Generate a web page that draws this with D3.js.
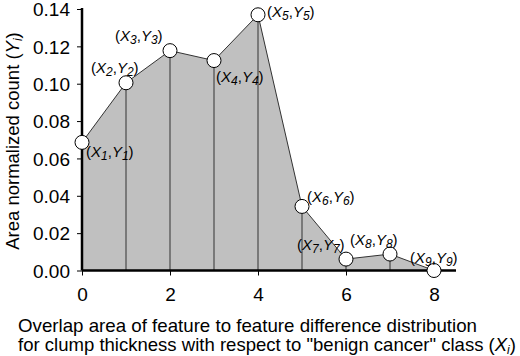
<!DOCTYPE html>
<html>
<head>
<meta charset="utf-8">
<script src="https://cdn.jsdelivr.net/npm/d3@7"></script>
<style>
  body { margin: 0; background: #fff; }
  svg { font-family: "Liberation Sans", Arial, sans-serif; }
</style>
</head>
<body>
<div id="chart"></div>
<script>
// data
var xs = [0, 1, 2, 3, 4, 5, 6, 7, 8];
var ys = [0.0686, 0.1005, 0.1177, 0.1124, 0.1369, 0.0343, 0.0061, 0.0088, 0.0];
var xTicks = [0, 2, 4, 6, 8];
var yTicks = [0, 0.02, 0.04, 0.06, 0.08, 0.10, 0.12, 0.14];
// label offsets per point (dx, dy from point)
var labelDx = [4, -35, -55, 2, 9, 5, -49, -40, -24];
var labelDy = [15, -10, -10, 21, 2, -4, -9, -9, -8];

var svg = d3.select('#chart').append('svg')
  .attr('width', 520)
  .attr('height', 356);

var x = d3.scaleLinear().domain([0, 8.5]).range([82, 456]);
var y = d3.scaleLinear().domain([0, 0.14]).range([270.5, 9]);

var pts = xs.map(function(d, i) { return [d, ys[i]]; });

// shaded area
var area = d3.area()
  .x(function(d) { return x(d[0]); })
  .y0(y(0))
  .y1(function(d) { return y(d[1]); });
svg.append('path')
  .datum(pts)
  .attr('d', area)
  .style('fill', '#c0c0c0');

// vertical dividers
svg.selectAll('line.drop')
  .data(pts.slice(1, 8))
  .enter().append('line')
  .attr('x1', function(d) { return x(d[0]); })
  .attr('x2', function(d) { return x(d[0]); })
  .attr('y1', function(d) { return y(d[1]); })
  .attr('y2', y(0))
  .style('stroke', '#333')
  .style('stroke-width', 1);

// outline
var line = d3.line()
  .x(function(d) { return x(d[0]); })
  .y(function(d) { return y(d[1]); });
svg.append('path')
  .datum(pts)
  .attr('d', line)
  .style('fill', 'none')
  .style('stroke', '#333')
  .style('stroke-width', 1);

// axes
var xAxis = d3.axisBottom(x).tickValues(xTicks).tickSize(5).tickFormat(d3.format('d'));
var gx = svg.append('g')
  .attr('transform', 'translate(0,' + y(0) + ')')
  .call(xAxis);
gx.select('.domain').remove();
gx.append('line')
  .attr('x1', x(0)).attr('x2', x(8.5))
  .style('stroke', '#000').style('stroke-width', 2.5);
gx.selectAll('.tick text')
  .attr('y', 17).attr('dy', '0.71em')
  .style('font-size', '19px')
  .style('font-family', '"Liberation Sans", Arial, sans-serif')
  .style('fill', '#000');

var yAxis = d3.axisLeft(y).tickValues(yTicks).tickSize(5).tickFormat(d3.format('.2f'));
var gy = svg.append('g')
  .attr('transform', 'translate(' + x(0) + ',0)')
  .call(yAxis);
gy.select('.domain').remove();
gy.append('line')
  .attr('y1', y(0)).attr('y2', y(0.14) - 1)
  .style('stroke', '#000').style('stroke-width', 2.5);
gy.selectAll('.tick text')
  .attr('x', -12)
  .attr('dy', '0.35em')
  .style('font-size', '19px')
  .style('font-family', '"Liberation Sans", Arial, sans-serif')
  .style('fill', '#000');

// markers
svg.selectAll('circle.pt')
  .data(pts)
  .enter().append('circle')
  .attr('cx', function(d) { return x(d[0]); })
  .attr('cy', function(d) { return y(d[1]); })
  .attr('r', 7)
  .style('fill', '#fff')
  .style('stroke', '#000')
  .style('stroke-width', 1);

// (Xi,Yi) labels
pts.forEach(function(d, i) {
  var t = svg.append('text')
    .attr('x', x(d[0]) + labelDx[i])
    .attr('y', y(d[1]) + labelDy[i])
    .style('font-size', '15px')
    .style('fill', '#000');
  t.append('tspan').text('(');
  t.append('tspan').style('font-style', 'italic').text('X');
  t.append('tspan').style('font-style', 'italic').style('font-size', '12px').attr('dy', 3).text(i + 1);
  t.append('tspan').attr('dy', -3).text(',');
  t.append('tspan').style('font-style', 'italic').text('Y');
  t.append('tspan').style('font-style', 'italic').style('font-size', '12px').attr('dy', 3).text(i + 1);
  t.append('tspan').attr('dy', -3).text(')');
});

// axis titles
var yt = svg.append('text')
  .attr('transform', 'translate(19,141) rotate(-90)')
  .attr('text-anchor', 'middle')
  .style('font-size', '18.5px');
yt.append('tspan').text('Area normalized count (');
yt.append('tspan').style('font-style', 'italic').text('Y');
yt.append('tspan').style('font-style', 'italic').style('font-size', '12px').attr('dy', 3).text('i');
yt.append('tspan').attr('dy', -3).text(')');

svg.append('text')
  .attr('x', 18).attr('y', 332)
  .attr('textLength', 459)
  .attr('lengthAdjust', 'spacingAndGlyphs')
  .style('font-size', '18.5px')
  .text('Overlap area of feature to feature difference distribution');
var xt = svg.append('text')
  .attr('x', 18).attr('y', 351)
  .attr('textLength', 498)
  .attr('lengthAdjust', 'spacingAndGlyphs')
  .style('font-size', '18.5px');
xt.append('tspan').text('for clump thickness with respect to "benign cancer" class (');
xt.append('tspan').style('font-style', 'italic').text('X');
xt.append('tspan').style('font-style', 'italic').style('font-size', '12px').attr('dy', 3).text('i');
xt.append('tspan').attr('dy', -3).text(')');
</script>
</body>
</html>
